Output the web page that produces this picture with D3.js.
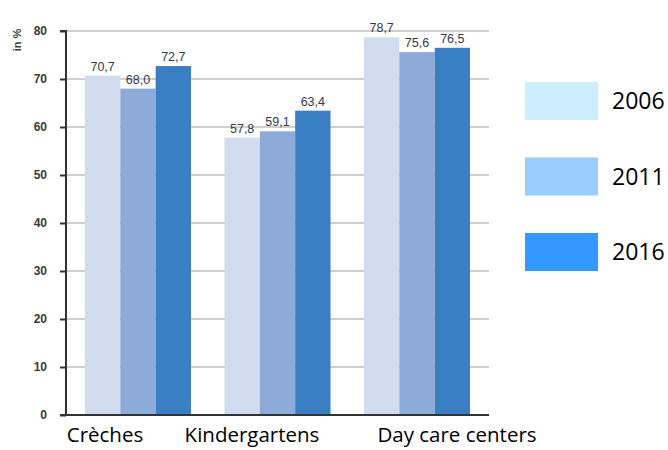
<!DOCTYPE html>
<html><head><meta charset="utf-8">
<script src="https://cdn.jsdelivr.net/npm/d3@7"></script>
<style>body{margin:0;background:#fff}</style>
</head><body>
<svg id="c" width="668" height="450"></svg>
<script>
const categories = ["Crèches", "Kindergartens", "Day care centers"];
const years = ["2006", "2011", "2016"];
const v2006 = [70.7, 57.8, 78.7];
const v2011 = [68.0, 59.1, 75.6];
const v2016 = [72.7, 63.4, 76.5];
const yTicks = [0, 10, 20, 30, 40, 50, 60, 70, 80];
const barColors = ["#d1dcee", "#8eaad9", "#3a7fc3"];
const legendColors = ["#cceeff", "#99ccff", "#3399ff"];

const series = [v2006, v2011, v2016];
const svg = d3.select("#c");
const y = d3.scaleLinear().domain([0, 80]).range([415, 31]);
const x0 = d3.scaleBand().domain(categories).range([66, 489]).paddingInner(0.24).paddingOuter(0.136);
const x1 = d3.scaleBand().domain(years).range([0, x0.bandwidth()]);

// gridlines
svg.append("g").selectAll("line").data(yTicks.filter(d => d > 0)).join("line")
  .attr("x1", 66).attr("x2", 489).attr("y1", d => y(d)).attr("y2", d => y(d))
  .attr("stroke", "#d0d0d0").attr("stroke-width", 2);

// bars
const g = svg.append("g");
categories.forEach((c, ci) => {
  years.forEach((yr, si) => {
    const v = series[si][ci];
    g.append("rect").attr("x", x0(c) + x1(yr)).attr("width", x1.bandwidth())
      .attr("y", y(v)).attr("height", y(0) - y(v)).attr("fill", barColors[si]);
    g.append("text").attr("x", x0(c) + x1(yr) + x1.bandwidth() / 2).attr("y", y(v) - 5)
      .attr("text-anchor", "middle").attr("font-family", "Liberation Sans, Arial, sans-serif")
      .attr("font-size", 12.5).attr("fill", "#333a4a")
      .text(v.toFixed(1).replace(".", ","));
  });
});

// y axis
const yAxis = d3.axisLeft(y).tickValues(yTicks).tickSize(6).tickPadding(13);
const ya = svg.append("g").attr("transform", "translate(66,0)").call(yAxis);
ya.select(".domain").attr("stroke", "#333").attr("stroke-width", 2).attr("d", "M-6,31H0V415H-6");
ya.selectAll(".tick line").attr("stroke", "#333").attr("stroke-width", 2);
ya.selectAll(".tick text").attr("font-family", "Liberation Sans, Arial, sans-serif")
  .attr("font-size", 12).attr("font-weight", "bold").attr("fill", "#3a3a3a");

// baseline
svg.append("line").attr("x1", 60).attr("x2", 489).attr("y1", 415).attr("y2", 415)
  .attr("stroke", "#333").attr("stroke-width", 2);

// y label
svg.append("text").attr("transform", "translate(21,40) rotate(-90)")
  .attr("text-anchor", "middle").attr("font-family", "Liberation Sans, Arial, sans-serif")
  .attr("font-size", 11).attr("font-weight", "bold").attr("fill", "#3a3a3a").text("in %");

// category labels
const catX = [105, 252, 457];
svg.append("g").selectAll("text").data(categories).join("text")
  .attr("x", (d, i) => catX[i]).attr("y", 442).attr("text-anchor", "middle")
  .attr("font-family", "Open Sans, sans-serif").attr("font-size", 20.5).attr("fill", "#000")
  .text(d => d);

// legend
const lg = svg.append("g");
years.forEach((yr, i) => {
  lg.append("rect").attr("x", 525).attr("y", 82 + i * 75.5).attr("width", 73).attr("height", 38)
    .attr("fill", legendColors[i]);
  lg.append("text").attr("x", 612).attr("y", 109 + i * 75.5)
    .attr("font-family", "Open Sans, sans-serif").attr("font-size", 23).attr("fill", "#000").text(yr);
});
</script>
</body></html>
